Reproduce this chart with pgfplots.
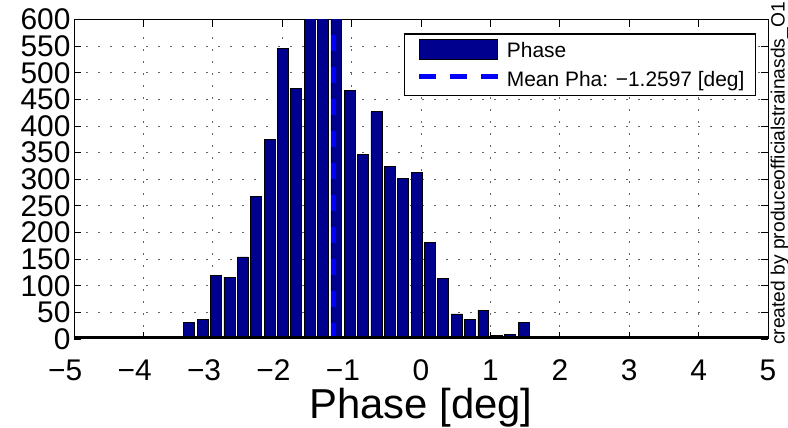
\documentclass[border=0pt]{standalone}
\usepackage{pgfplots}
\pgfplotsset{compat=1.18}
\usepackage{fontspec}
\setmainfont{Liberation Sans}
\definecolor{barblue}{RGB}{0,0,143}
\pgfplotstableread{
x y
-3.338 31
-3.145 37
-2.953 119
-2.760 116
-2.568 154
-2.375 267
-2.182 374
-1.990 546
-1.797 470
-1.605 640
-1.412 700
-1.219 660
-1.027 467
-0.834 347
-0.642 427
-0.449 324
-0.256 301
-0.064 312
0.129 182
0.321 113
0.514 47
0.707 36
0.899 54
1.092 6
1.284 8
1.477 31
}\phasedata
\begin{document}
\begin{tikzpicture}
\begin{axis}[
  at={(74bp,89bp)}, anchor=south west,
  scale only axis, width=694bp, height=319.5bp,
  xmin=-5, xmax=5, ymin=0, ymax=600,
  xtick={-5,...,5},
  xticklabels={\llap{−}5,\llap{−}4,\llap{−}3,\llap{−}2,\llap{−}1,0,1,2,3,4,5},
  ytick={0,50,...,600},
  /pgf/number format/assume math mode=true,
  ticklabel style={font=\fontsize{30}{36}\selectfont},
  xticklabel style={yshift=-17bp},
  tick align=inside, major tick length=7bp,
  tick style={black, line width=0.8bp},
  grid=major,
  major grid style={black!60, line width=1bp, dash pattern=on 1.5bp off 10.5bp},
  axis line style={line width=1bp},
  xlabel={Phase [deg]},
  xlabel style={font=\fontsize{42}{50}\selectfont, at={(axis description cs:0.5,0)}, anchor=base, yshift=-79bp},
  legend style={at={(axis description cs:0.9823,0.9568)}, anchor=north east,
    draw=black, line width=1.2bp, fill=white, inner xsep=10.7bp, inner ysep=2bp,
    row sep=0pt, font=\fontsize{21}{25}\selectfont,
    nodes={inner sep=0pt, text height=21.95bp, text depth=6.95bp}},
  legend cell align=left,
]
\addplot[ybar, bar width=0.158, bar shift=0pt, fill=barblue, draw=black, line width=0.8bp,
  legend image code/.code={\path[draw=none, fill=none] (0bp,0bp) -- (92bp,0bp);
    \draw[fill=barblue, draw=black, line width=1bp] (4.3bp,-9.2bp) rectangle (82.7bp,10.8bp);}]
  table[x=x, y=y] {\phasedata};
\addlegendentry{Phase}
\addplot[blue, line width=5.5bp, dash pattern=on 15.7bp off 16.3bp,
  legend image code/.code={\path[draw=none, fill=none] (0bp,0bp) -- (92bp,0bp);
    \draw[blue, line width=5.5bp, dash pattern=on 16.7bp off 14.2bp] (4.3bp,3bp) -- (82.7bp,3bp);}]
  coordinates {(-1.2597,0) (-1.2597,600)};
\addlegendentry{Mean Pha: −1.2597 [deg]}
\addplot[black, line width=5bp, forget plot] coordinates {(-5,0) (5,0)};
\end{axis}
\node[rotate=90, anchor=base west, font=\fontsize{19.3}{23}\selectfont, inner sep=0pt] at (784.5bp,83bp) {created by produceofficialstrainasds\_O1};
\pgfresetboundingbox
\path[use as bounding box] (0bp,0bp) rectangle (788bp,428bp);
\end{tikzpicture}
\end{document}
